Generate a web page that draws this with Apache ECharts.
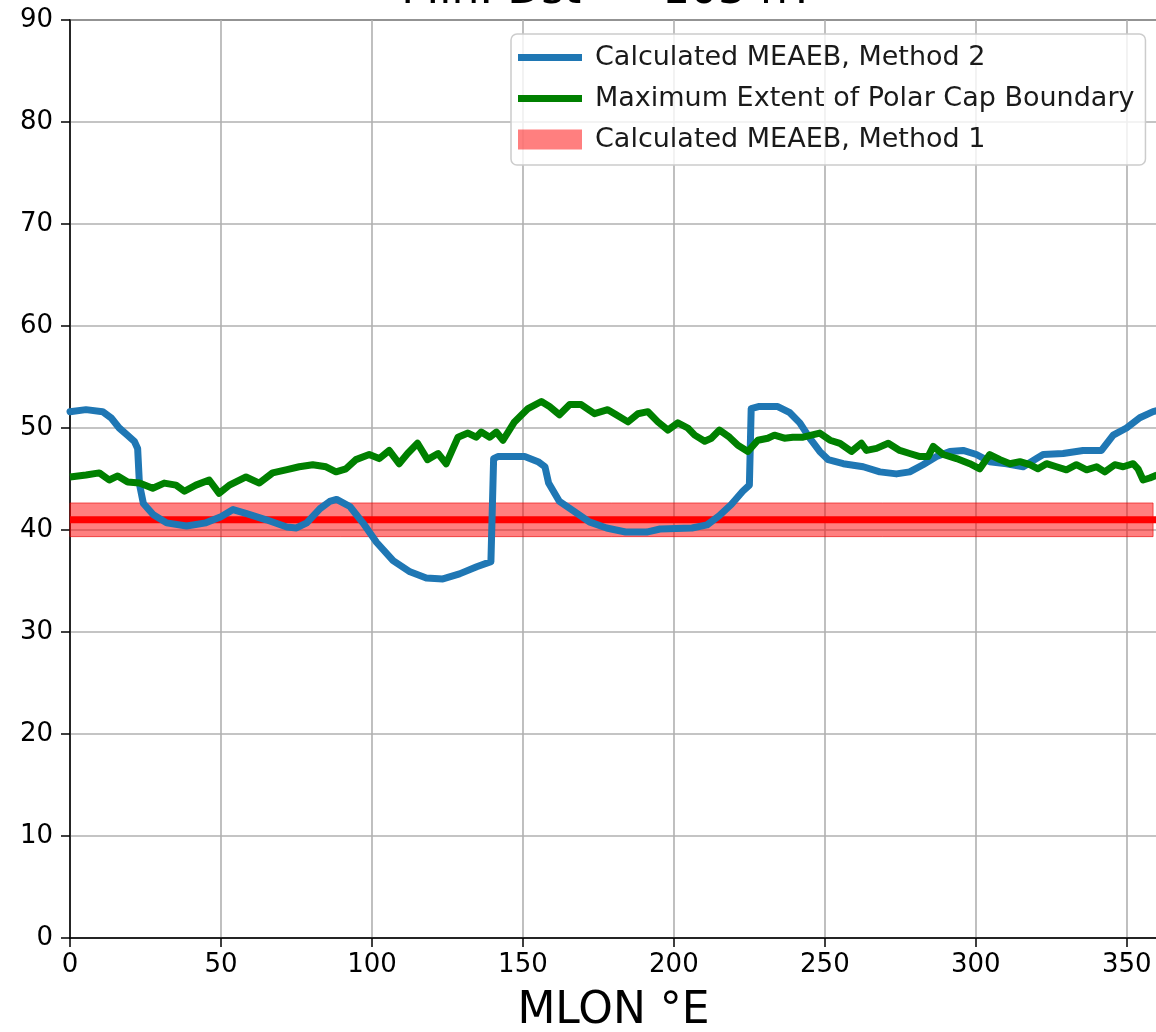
<!DOCTYPE html>
<html>
<head>
<meta charset="utf-8">
<title>MEAEB</title>
<script src="https://cdn.jsdelivr.net/npm/echarts@6/dist/echarts.min.js"></script>
<style>
html, body { margin: 0; padding: 0; background: #fff; }
#chart { width: 1156px; height: 1032px; }
</style>
</head>
<body>
<div id="chart"></div>
<script>
const titleText = "Min. Dst = -103 nT";
const xName = "MLON \u00b0E";

// Calculated MEAEB, Method 2 (blue)
const method2Lon = [0, 5.3, 10.8, 13.6, 16.3, 19, 21.3, 22.4, 23.0, 24.3, 27.6, 32, 38.6, 45, 50, 54, 58.5, 65, 71.8, 75, 78.4, 82.8, 86, 88.3, 92.7, 97, 101.5, 107, 112.6, 118, 123.5, 129, 134.7, 139.4, 140.3, 141.7, 150.6, 155, 157.3, 158.5, 162.1, 166.6, 172, 177.7, 184, 191, 195.4, 206, 211, 215, 219, 222.8, 225, 225.6, 228, 234.4, 238.4, 241.7, 245, 248.3, 251.1, 256.1, 262.7, 268.2, 273.7, 278.1, 282.5, 287, 291.4, 295.8, 300.2, 304.6, 310.2, 315.7, 320.1, 322.3, 328.9, 335.5, 341.6, 345.5, 349.9, 354.3, 358.7, 360];
const method2Val = [51.6, 51.8, 51.6, 51.0, 50.0, 49.3, 48.7, 48.0, 44.5, 42.6, 41.5, 40.7, 40.4, 40.7, 41.3, 42.0, 41.6, 41.0, 40.3, 40.2, 40.7, 42.1, 42.8, 43.0, 42.3, 40.7, 38.8, 37.0, 35.9, 35.3, 35.2, 35.7, 36.4, 36.9, 47.0, 47.2, 47.2, 46.7, 46.2, 44.6, 42.8, 41.9, 40.8, 40.2, 39.8, 39.8, 40.1, 40.2, 40.5, 41.4, 42.5, 43.8, 44.4, 51.9, 52.1, 52.1, 51.5, 50.5, 49.0, 47.7, 46.9, 46.5, 46.2, 45.7, 45.5, 45.7, 46.4, 47.2, 47.7, 47.8, 47.4, 46.7, 46.5, 46.2, 47.0, 47.4, 47.5, 47.8, 47.8, 49.3, 50.0, 51.0, 51.6, 51.7];

// Maximum Extent of Polar Cap Boundary (green)
const polarCapLon = [0, 5.3, 9.7, 13, 15.8, 19.1, 23, 27.4, 31.2, 35.1, 37.9, 41.7, 46.1, 49.4, 52.8, 58.3, 62.7, 67.1, 71.5, 75.9, 80.4, 84.8, 88.1, 91.4, 94.7, 99.1, 102.4, 105.7, 109, 111.8, 115.1, 118.4, 121.9, 124.6, 128.5, 131.8, 134.5, 136.2, 139, 141.2, 143.4, 147.2, 151.7, 156.1, 158.8, 162.1, 165.5, 169.3, 173.7, 178.1, 180.9, 184.8, 188.1, 191.4, 194.7, 198, 201.3, 204.6, 206.9, 210.2, 212.4, 215.1, 218.4, 221.2, 224.5, 227.8, 231.1, 233.3, 236.6, 239.4, 242.8, 248.3, 251.7, 255, 258.8, 262.1, 263.8, 267.1, 271, 274.8, 278.1, 281.5, 284.2, 285.9, 289.2, 293.6, 298, 301.3, 304.6, 308, 311.3, 314.6, 317.9, 320.6, 323.4, 326.7, 330, 333.3, 336.7, 340, 342.7, 346, 348.8, 352.1, 353.7, 355.4, 357.6, 360];
const polarCapVal = [45.2, 45.4, 45.6, 44.9, 45.3, 44.7, 44.6, 44.1, 44.6, 44.4, 43.8, 44.4, 44.9, 43.6, 44.4, 45.2, 44.6, 45.6, 45.9, 46.2, 46.4, 46.2, 45.7, 46.0, 46.9, 47.4, 47.0, 47.8, 46.5, 47.5, 48.5, 46.9, 47.5, 46.5, 49.1, 49.5, 49.1, 49.6, 49.1, 49.6, 48.8, 50.6, 51.9, 52.6, 52.1, 51.3, 52.3, 52.3, 51.4, 51.8, 51.3, 50.6, 51.4, 51.6, 50.6, 49.8, 50.5, 50.0, 49.3, 48.7, 49.0, 49.8, 49.1, 48.3, 47.7, 48.8, 49.0, 49.3, 49.0, 49.1, 49.1, 49.5, 48.8, 48.5, 47.7, 48.5, 47.8, 48.0, 48.5, 47.8, 47.5, 47.2, 47.2, 48.2, 47.4, 47.0, 46.5, 46.0, 47.4, 46.9, 46.5, 46.7, 46.4, 46.0, 46.5, 46.2, 45.9, 46.4, 45.9, 46.2, 45.7, 46.4, 46.2, 46.5, 46.0, 44.9, 45.1, 45.4];

// Calculated MEAEB, Method 1 (red line and band)
const method1Center = 41.0;
const method1Low = 39.35;
const method1High = 42.65;

const legendNames = ["Calculated MEAEB, Method 2", "Maximum Extent of Polar Cap Boundary", "Calculated MEAEB, Method 1"];

const font = "DejaVu Sans";
const lineIcon = "path://M0,0H64V7H0Z";
const chart = echarts.init(document.getElementById("chart"));
chart.setOption({
  animation: false,
  backgroundColor: "#fff",
  graphic: [
    {
      type: "text",
      x: 608,
      y: 14,
      style: {
        text: titleText,
        fontSize: 44,
        fontFamily: font,
        fill: "#000",
        textAlign: "center",
        textVerticalAlign: "bottom"
      }
    }
  ],
  grid: {
    left: 70,
    top: 20,
    width: 1087,
    height: 918,
    show: true,
    borderColor: "#000",
    borderWidth: 1.5,
    outerBoundsMode: "none"
  },
  legend: {
    orient: "vertical",
    left: 511,
    top: 34,
    itemWidth: 64,
    itemHeight: 20,
    itemGap: 14,
    padding: [10, 11, 12, 7],
    backgroundColor: "rgba(255,255,255,0.8)",
    borderColor: "#cccccc",
    borderWidth: 1.5,
    borderRadius: 6,
    textStyle: {
      fontSize: 27,
      fontFamily: font,
      color: "#1a1a1a",
      padding: [0, 0, 0, 8]
    },
    data: [
      { name: legendNames[0], icon: lineIcon },
      { name: legendNames[1], icon: lineIcon },
      { name: legendNames[2], icon: "rect" }
    ]
  },
  xAxis: {
    type: "value",
    min: 0,
    max: 360,
    interval: 50,
    name: xName,
    nameLocation: "middle",
    nameGap: 52,
    nameTextStyle: { fontSize: 44, fontFamily: font, color: "#000" },
    axisLine: { show: true, lineStyle: { color: "#000", width: 1.5 } },
    axisTick: { show: true, length: 9, lineStyle: { color: "#000", width: 1.5 } },
    axisLabel: { fontSize: 26, fontFamily: font, color: "#000", margin: 14, showMaxLabel: false },
    splitLine: { show: true, lineStyle: { color: "#b0b0b0", width: 1.6 } }
  },
  yAxis: {
    type: "value",
    min: 0,
    max: 90,
    interval: 10,
    axisLine: { show: true, lineStyle: { color: "#000", width: 1.5 } },
    axisTick: { show: true, length: 9, lineStyle: { color: "#000", width: 1.5 } },
    axisLabel: { fontSize: 26, fontFamily: font, color: "#000", margin: 17 },
    splitLine: { show: true, lineStyle: { color: "#b0b0b0", width: 1.6 } }
  },
  series: [
    {
      name: legendNames[2],
      type: "line",
      data: [],
      itemStyle: { color: "rgba(255,0,0,0.5)" },
      markArea: {
        silent: true,
        itemStyle: { color: "rgba(255,0,0,0.5)", borderColor: "rgba(230,0,0,0.6)", borderWidth: 1 },
        data: [[{ xAxis: 0, yAxis: method1Low }, { xAxis: 358.7, yAxis: method1High }]]
      },
      z: 1
    },
    {
      name: "method1Line",
      type: "line",
      symbol: "none",
      data: [[0, method1Center], [360, method1Center]],
      lineStyle: { color: "#ff0000", width: 7 },
      itemStyle: { color: "#ff0000" },
      z: 2
    },
    {
      name: legendNames[0],
      type: "line",
      symbol: "none",
      data: method2Lon.map((x, i) => [x, method2Val[i]]),
      lineStyle: { color: "#1f77b4", width: 7, join: "round", cap: "round" },
      itemStyle: { color: "#1f77b4" },
      z: 3
    },
    {
      name: legendNames[1],
      type: "line",
      symbol: "none",
      data: polarCapLon.map((x, i) => [x, polarCapVal[i]]),
      lineStyle: { color: "#008000", width: 7, join: "round" },
      itemStyle: { color: "#008000" },
      z: 4
    }
  ]
});
</script>
</body>
</html>
